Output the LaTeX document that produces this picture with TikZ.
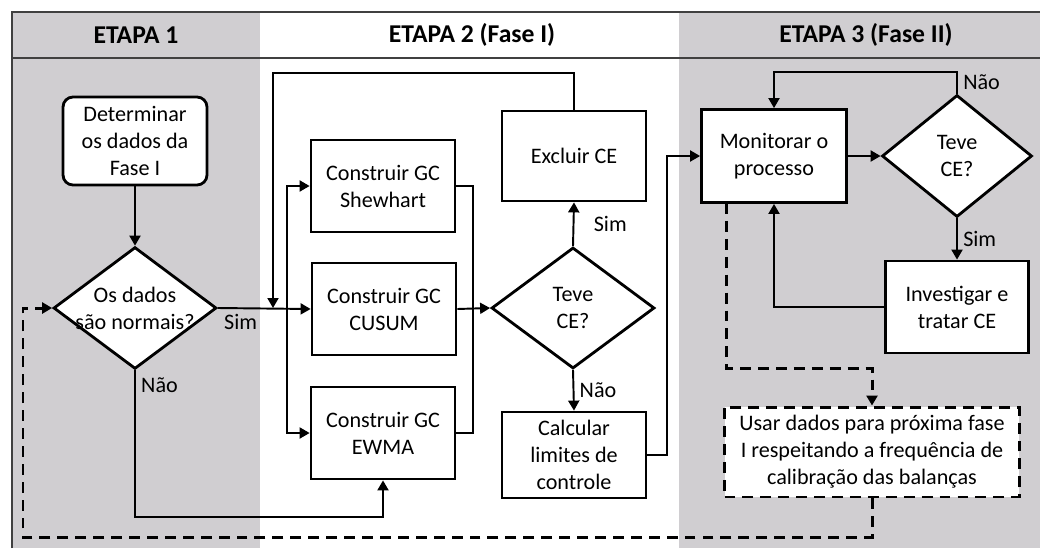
\documentclass[tikz,border=0pt]{standalone}
\usepackage{fontspec}
\setmainfont{Carlito}
\usetikzlibrary{arrows.meta,shapes.geometric}
\definecolor{lane}{RGB}{208,206,209}
\definecolor{rule}{RGB}{64,64,64}

\begin{document}
\begin{tikzpicture}[x=0.02cm,y=-0.02cm,>={Triangle[length=2mm,width=2.2mm]},line width=1.1pt,
  font=\fontsize{12.6}{15.4}\selectfont,
  box/.style={draw,line width=1.6pt,fill=white,align=center,minimum width=\bw,minimum height=1.84cm},
  dec/.style={draw,diamond,line width=1.6pt,fill=white,align=center,inner sep=0pt,minimum width=3.26cm,minimum height=2.42cm},
  dsh/.style={line width=1.7pt,dash pattern=on 6.2pt off 4pt},
  lbl/.style={inner sep=3pt},
  head/.style={font=\fontsize{14.6}{17}\selectfont\bfseries}]
\def\bw{2.88cm}
\useasboundingbox (0,0) rectangle (1040,548);
% ---- lanes ----
\fill[lane] (12,12) rectangle (260,548);
\fill[lane] (679,12) rectangle (1040,548);
\draw[rule,line width=1.1pt] (12,548) -- (12,12) -- (1040,12);
\draw[rule,line width=0.8pt] (12,58) -- (1040,58);
\node[head] (h1) at (136,35) {ETAPA 1};
\node[head] (h2) at (472,35) {ETAPA 2 (Fase I)};
\node[head] (h3) at (866,35) {ETAPA 3 (Fase II)};
% ---- etapa 1 ----
\node[box,rounded corners=0.2cm,minimum height=1.76cm] (dados) at (135,141) {Determinar\\os dados da\\Fase I};
\node[dec,inner xsep=-4mm] (norm) at (135,308) {Os dados\\são normais?};
\draw[->] (dados) -- (norm);
% ---- etapa 2 ----
\node[box] (shew) at (383,186) {Construir GC\\Shewhart};
\node[box] (cusum) at (384,309) {Construir GC\\CUSUM};
\node[box] (ewma) at (383,433) {Construir GC\\EWMA};
\node[dec] (ce1) at (573,308) {Teve\\CE?};
\node[box,minimum height=1.8cm] (excl) at (574,156) {Excluir CE};
\node[box,minimum height=1.72cm] (calc) at (574,455) {Calcular\\limites de\\controle};
\coordinate (busL) at (287,308);
\coordinate (busR) at (473,308);
\coordinate (loop) at (273,73);
\coordinate (bot) at (135,517);
\coordinate (jog) at (667,455);
\draw[->] (norm.east) -- node[lbl,pos=0,anchor=north west]{Sim} (cusum.west);
\draw[->] (norm.south) -- node[lbl,pos=0.1,right]{Não} (bot) -| (ewma.south);
\draw[->] (busL) |- (shew.west);
\draw[->] (busL) |- (ewma.west);
\draw (shew.east) -| (busR);
\draw (ewma.east) -| (busR);
\draw[->] (cusum.east) -- (ce1.west);
\draw[->] (ce1.north) -- node[lbl,right,xshift=8]{Sim} (excl.south);
\draw[->] (ce1.south) -- node[lbl,right]{Não} (calc.north);
\draw[->] (excl.north) |- (loop) -- (loop |- norm.east);
% ---- etapa 3 ----
\node[box,minimum width=2.9cm,minimum height=1.86cm] (mon) at (774,156) {Monitorar o\\processo};
\node[dec,minimum width=3cm,minimum height=2.44cm] (ce2) at (957,156) {Teve\\CE?};
\node[box,minimum width=2.86cm] (inv) at (957,307) {Investigar e\\tratar CE};
\node[box,dsh,minimum width=5.9cm,minimum height=1.8cm] (usar) at (872,452) {Usar dados para próxima fase\\I respeitando a frequência de\\calibração das balanças};
\draw[->] (calc.east) -- (jog) |- (mon.west);
\draw[->] (mon.east) -- (ce2.west);
\draw[->] (ce2.north) -- node[lbl,right]{Não} ++(0,-22) -| (mon.north);
\draw[->] (ce2.south) -- node[lbl,right]{Sim} (inv.north);
\draw[->] (inv.west) -| (mon.south);
% dashed return to etapa 1
\coordinate (dsA) at (726,203);
\coordinate (dsB) at (726,368);
\coordinate (dsC) at (23,537);
\draw[dsh,->] (dsA) -- (dsB) -| (usar.north);
\draw[dsh,->] (usar.south) |- (dsC) |- (norm.west);
\end{tikzpicture}
\end{document}
